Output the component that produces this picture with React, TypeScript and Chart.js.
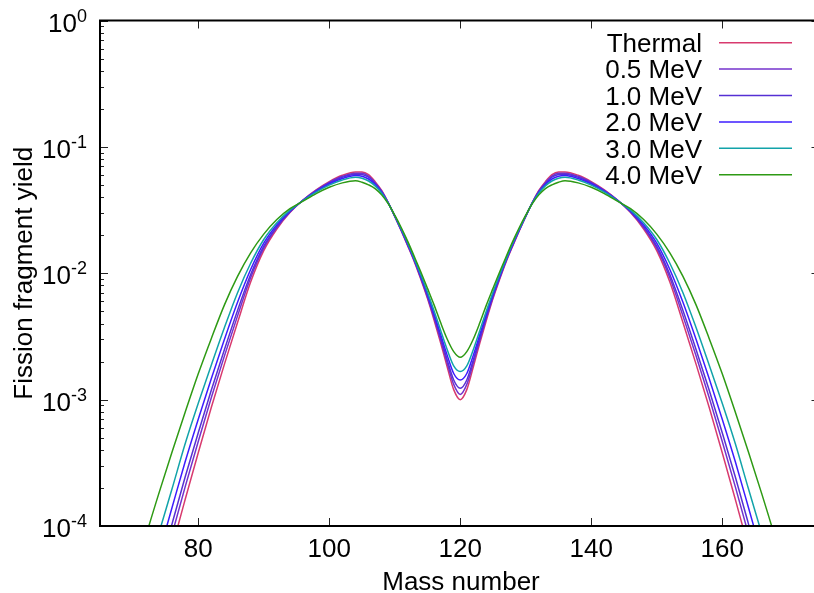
import React, { useEffect, useRef } from "react";
import { Chart, registerables } from "chart.js";

Chart.register(...registerables);

// ---------- data ----------
const massNumbers = [
  70, 72, 74, 76, 78, 80, 82, 84, 86, 88, 90, 92, 94, 96, 98, 100, 102, 104,
  105, 106, 107, 108, 109, 110, 111, 112, 113, 114, 115, 116, 117, 118, 119, 120,
  121, 122, 123, 124, 125, 126, 127, 128, 129, 130, 131, 132, 133, 134, 135, 136,
  138, 140, 142, 144, 146, 148, 150, 152, 154, 156, 158, 160, 162, 164, 166, 168, 170,
];

const yieldThermal = [
  4.27e-6, 1.07e-5, 2.69e-5, 6.76e-5, 1.62e-4, 3.8e-4, 8.71e-4, 1.91e-3, 4.07e-3, 8.51e-3, 1.51e-2, 2.24e-2, 3.02e-2, 3.8e-2, 4.57e-2, 5.31e-2, 5.96e-2, 6.34e-2,
  6.34e-2, 6.03e-2, 5.31e-2, 4.52e-2, 3.63e-2, 2.82e-2, 2.16e-2, 1.64e-2, 1.23e-2, 8.91e-3, 6.31e-3, 4.27e-3, 2.82e-3, 1.82e-3, 1.2e-3, 1.0e-3,
  1.2e-3, 1.82e-3, 2.82e-3, 4.27e-3, 6.31e-3, 8.91e-3, 1.23e-2, 1.64e-2, 2.16e-2, 2.82e-2, 3.63e-2, 4.52e-2, 5.31e-2, 6.03e-2, 6.34e-2, 6.34e-2,
  5.96e-2, 5.31e-2, 4.57e-2, 3.8e-2, 3.02e-2, 2.24e-2, 1.51e-2, 8.51e-3, 4.07e-3, 1.91e-3, 8.71e-4, 3.8e-4, 1.62e-4, 6.76e-5, 2.69e-5, 1.07e-5, 4.27e-6,
];

const yield05MeV = [
  5.74e-6, 1.43e-5, 3.52e-5, 8.61e-5, 2.04e-4, 4.66e-4, 1.04e-3, 2.22e-3, 4.6e-3, 9.2e-3, 1.58e-2, 2.3e-2, 3.05e-2, 3.79e-2, 4.53e-2, 5.24e-2, 5.85e-2, 6.19e-2,
  6.18e-2, 5.87e-2, 5.21e-2, 4.47e-2, 3.62e-2, 2.82e-2, 2.18e-2, 1.66e-2, 1.25e-2, 9.08e-3, 6.47e-3, 4.44e-3, 2.96e-3, 1.95e-3, 1.32e-3, 1.1e-3,
  1.32e-3, 1.95e-3, 2.96e-3, 4.44e-3, 6.47e-3, 9.08e-3, 1.25e-2, 1.66e-2, 2.18e-2, 2.82e-2, 3.62e-2, 4.47e-2, 5.21e-2, 5.87e-2, 6.18e-2, 6.19e-2,
  5.85e-2, 5.24e-2, 4.53e-2, 3.79e-2, 3.05e-2, 2.3e-2, 1.58e-2, 9.2e-3, 4.6e-3, 2.22e-3, 1.04e-3, 4.66e-4, 2.04e-4, 8.61e-5, 3.52e-5, 1.43e-5, 5.74e-6,
];

const yield10MeV = [
  7.24e-6, 1.79e-5, 4.34e-5, 1.04e-4, 2.44e-4, 5.46e-4, 1.19e-3, 2.49e-3, 5.07e-3, 9.77e-3, 1.64e-2, 2.34e-2, 3.07e-2, 3.78e-2, 4.49e-2, 5.18e-2, 5.75e-2, 6.08e-2,
  6.04e-2, 5.75e-2, 5.14e-2, 4.43e-2, 3.61e-2, 2.83e-2, 2.19e-2, 1.67e-2, 1.26e-2, 9.23e-3, 6.61e-3, 4.57e-3, 3.09e-3, 2.07e-3, 1.43e-3, 1.23e-3,
  1.43e-3, 2.07e-3, 3.09e-3, 4.57e-3, 6.61e-3, 9.23e-3, 1.26e-2, 1.67e-2, 2.19e-2, 2.83e-2, 3.61e-2, 4.43e-2, 5.14e-2, 5.75e-2, 6.04e-2, 6.08e-2,
  5.75e-2, 5.18e-2, 4.49e-2, 3.78e-2, 3.07e-2, 2.34e-2, 1.64e-2, 9.77e-3, 5.07e-3, 2.49e-3, 1.19e-3, 5.46e-4, 2.44e-4, 1.04e-4, 4.34e-5, 1.79e-5, 7.24e-6,
];

const yield20MeV = [
  1.04e-5, 2.54e-5, 6.01e-5, 1.4e-4, 3.22e-4, 7.0e-4, 1.47e-3, 3.0e-3, 5.89e-3, 1.07e-2, 1.73e-2, 2.42e-2, 3.11e-2, 3.77e-2, 4.44e-2, 5.08e-2, 5.62e-2, 5.93e-2,
  5.86e-2, 5.57e-2, 5.04e-2, 4.37e-2, 3.6e-2, 2.84e-2, 2.21e-2, 1.7e-2, 1.28e-2, 9.44e-3, 6.82e-3, 4.79e-3, 3.29e-3, 2.25e-3, 1.61e-3, 1.43e-3,
  1.61e-3, 2.25e-3, 3.29e-3, 4.79e-3, 6.82e-3, 9.44e-3, 1.28e-2, 1.7e-2, 2.21e-2, 2.84e-2, 3.6e-2, 4.37e-2, 5.04e-2, 5.57e-2, 5.86e-2, 5.93e-2,
  5.62e-2, 5.08e-2, 4.44e-2, 3.77e-2, 3.11e-2, 2.42e-2, 1.73e-2, 1.07e-2, 5.89e-3, 3.0e-3, 1.47e-3, 7.0e-4, 3.22e-4, 1.4e-4, 6.01e-5, 2.54e-5, 1.04e-5,
];

const yield30MeV = [
  1.58e-5, 3.82e-5, 8.81e-5, 1.97e-4, 4.47e-4, 9.35e-4, 1.88e-3, 3.72e-3, 7.02e-3, 1.2e-2, 1.85e-2, 2.51e-2, 3.16e-2, 3.75e-2, 4.38e-2, 4.98e-2, 5.47e-2, 5.74e-2,
  5.64e-2, 5.37e-2, 4.91e-2, 4.3e-2, 3.58e-2, 2.86e-2, 2.24e-2, 1.73e-2, 1.3e-2, 9.7e-3, 7.08e-3, 5.06e-3, 3.54e-3, 2.49e-3, 1.85e-3, 1.67e-3,
  1.85e-3, 2.49e-3, 3.54e-3, 5.06e-3, 7.08e-3, 9.7e-3, 1.3e-2, 1.73e-2, 2.24e-2, 2.86e-2, 3.58e-2, 4.3e-2, 4.91e-2, 5.37e-2, 5.64e-2, 5.74e-2,
  5.47e-2, 4.98e-2, 4.38e-2, 3.75e-2, 3.16e-2, 2.51e-2, 1.85e-2, 1.2e-2, 7.02e-3, 3.72e-3, 1.88e-3, 9.35e-4, 4.47e-4, 1.97e-4, 8.81e-5, 3.82e-5, 1.58e-5,
];

const yield40MeV = [
  3.55e-5, 8.32e-5, 1.82e-4, 3.85e-4, 7.94e-4, 1.6e-3, 3.05e-3, 5.62e-3, 9.44e-3, 1.45e-2, 2.04e-2, 2.66e-2, 3.24e-2, 3.72e-2, 4.27e-2, 4.79e-2, 5.19e-2, 5.4e-2,
  5.25e-2, 5.01e-2, 4.68e-2, 4.17e-2, 3.55e-2, 2.88e-2, 2.29e-2, 1.78e-2, 1.35e-2, 1.02e-2, 7.59e-3, 5.62e-3, 4.07e-3, 3.02e-3, 2.4e-3, 2.16e-3,
  2.4e-3, 3.02e-3, 4.07e-3, 5.62e-3, 7.59e-3, 1.02e-2, 1.35e-2, 1.78e-2, 2.29e-2, 2.88e-2, 3.55e-2, 4.17e-2, 4.68e-2, 5.01e-2, 5.25e-2, 5.4e-2,
  5.19e-2, 4.79e-2, 4.27e-2, 3.72e-2, 3.24e-2, 2.66e-2, 2.04e-2, 1.45e-2, 9.44e-3, 5.62e-3, 3.05e-3, 1.6e-3, 7.94e-4, 3.85e-4, 1.82e-4, 8.32e-5, 3.55e-5,
];

const seriesLabels = ["Thermal", "0.5 MeV", "1.0 MeV", "2.0 MeV", "3.0 MeV", "4.0 MeV"];
const seriesValues = [yieldThermal, yield05MeV, yield10MeV, yield20MeV, yield30MeV, yield40MeV];
const seriesColors = ["#d83a6e", "#7432cc", "#5630d4", "#3c1cff", "#12a3aa", "#2e9a14"];

const xTickValues = [80, 100, 120, 140, 160];
const yTickExponents = [0, -1, -2, -3, -4];
const xAxisTitle = "Mass number";
const yAxisTitle = "Fission fragment yield";

const FONT_FAMILY = '"Liberation Sans", Arial, Helvetica, sans-serif';

// ---------- gnuplot-like frame, ticks, labels and key ----------
const gnuplotFrame = {
  id: "gnuplotFrame",
  afterDatasetsDraw(chart: any) {
    const { ctx, chartArea: a } = chart;
    const xs = chart.scales.x;
    const ys = chart.scales.y;
    ctx.save();

    // ticks (inward, mirrored)
    ctx.strokeStyle = "#222";
    ctx.lineWidth = 1;
    xTickValues.forEach((v) => {
      const px = Math.round(xs.getPixelForValue(v)) + 0.5;
      ctx.beginPath();
      ctx.moveTo(px, a.bottom);
      ctx.lineTo(px, a.bottom - 8);
      ctx.moveTo(px, a.top);
      ctx.lineTo(px, a.top + 8);
      ctx.stroke();
    });
    for (let e = -4; e <= 0; e++) {
      for (let m = 1; m <= 9; m++) {
        const v = m * Math.pow(10, e);
        if (v > 1.0000001) break;
        const py = Math.round(ys.getPixelForValue(v)) + 0.5;
        const len = m === 1 ? 8 : 4;
        ctx.beginPath();
        ctx.moveTo(a.left, py);
        ctx.lineTo(a.left + len, py);
        ctx.moveTo(a.right, py);
        ctx.lineTo(a.right - (m === 1 ? 9 : 4), py);
        ctx.stroke();
      }
    }

    // border
    ctx.strokeStyle = "#000";
    ctx.lineWidth = 2;
    ctx.beginPath();
    ctx.rect(a.left, a.top, a.right - a.left, a.bottom - a.top);
    ctx.stroke();

    // x tick labels
    ctx.fillStyle = "#000";
    ctx.font = `26px ${FONT_FAMILY}`;
    ctx.textAlign = "center";
    ctx.textBaseline = "alphabetic";
    xTickValues.forEach((v) => {
      ctx.fillText(String(v), xs.getPixelForValue(v), 557);
    });

    // y tick labels: 10^e
    yTickExponents.forEach((e) => {
      const py = ys.getPixelForValue(Math.pow(10, e));
      const sup = String(e);
      ctx.font = `18px ${FONT_FAMILY}`;
      const ws = ctx.measureText(sup).width;
      ctx.textAlign = "left";
      ctx.fillText(sup, 87 - ws, py + 1);
      ctx.font = `26px ${FONT_FAMILY}`;
      ctx.textAlign = "right";
      ctx.fillText("10", 87 - ws, py + 11);
    });

    // axis titles
    ctx.font = `26px ${FONT_FAMILY}`;
    ctx.textAlign = "center";
    ctx.fillText(xAxisTitle, 461, 590);
    ctx.save();
    ctx.translate(31.5, (a.top + a.bottom) / 2);
    ctx.rotate(-Math.PI / 2);
    ctx.fillText(yAxisTitle, 0, 0);
    ctx.restore();

    // key
    chart.data.datasets.forEach((ds: any, i: number) => {
      const rowY = 42.7 + i * 26.4;
      ctx.font = `26px ${FONT_FAMILY}`;
      ctx.textAlign = "right";
      ctx.fillStyle = "#000";
      ctx.fillText(ds.label, 702, rowY + 9.3);
      ctx.strokeStyle = ds.borderColor;
      ctx.lineWidth = 1.5;
      ctx.beginPath();
      ctx.moveTo(719, rowY);
      ctx.lineTo(792, rowY);
      ctx.stroke();
    });

    ctx.restore();
  },
};

export default function App() {
  const canvasRef = useRef<HTMLCanvasElement | null>(null);

  useEffect(() => {
    document.body.style.margin = "0";
    const canvas = canvasRef.current;
    if (!canvas) return;
    const datasets = seriesLabels.map((label, i) => ({
      label,
      data: massNumbers.map((m, j) => ({ x: m, y: seriesValues[i][j] })),
      borderColor: seriesColors[i],
      backgroundColor: seriesColors[i],
      borderWidth: 1.5,
      pointRadius: 0,
      fill: false,
      cubicInterpolationMode: "monotone" as const,
      order: seriesLabels.length - i,
    }));
    const chart = new Chart(canvas, {
      type: "line",
      data: { datasets },
      options: {
        animation: false,
        responsive: false,
        devicePixelRatio: 1,
        layout: { padding: { left: 100, top: 20.5, right: 1.5, bottom: 67 } },
        plugins: { legend: { display: false }, tooltip: { enabled: false } },
        scales: {
          x: { type: "linear", min: 65, max: 175, display: false },
          y: { type: "logarithmic", min: 1e-4, max: 1, display: false },
        },
      },
      plugins: [gnuplotFrame],
    });
    return () => chart.destroy();
  }, []);

  return (
    <div
      style={{
        position: "fixed",
        left: 0,
        top: 0,
        width: 814,
        height: 593,
        overflow: "hidden",
        background: "#fff",
      }}
    >
      <canvas
        ref={canvasRef}
        width={822}
        height={593}
        style={{ width: 822, height: 593, display: "block" }}
      />
    </div>
  );
}
